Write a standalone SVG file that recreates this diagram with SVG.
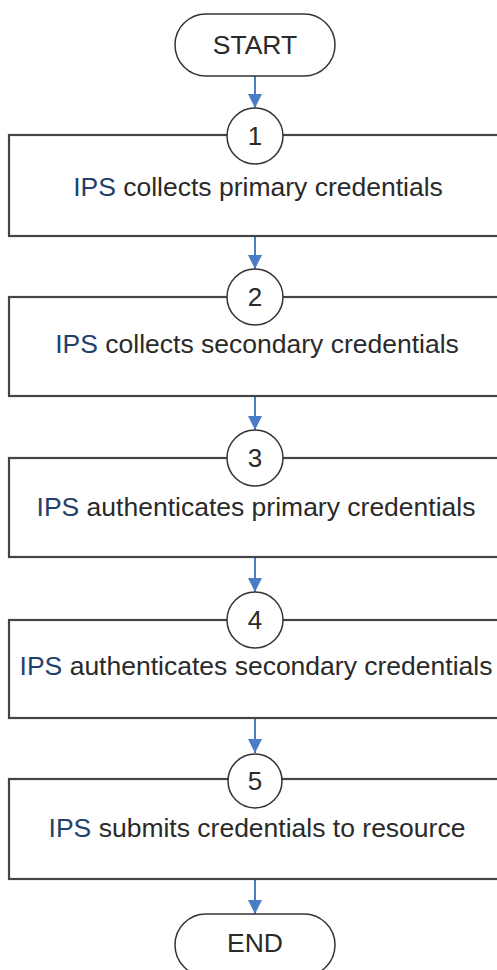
<svg xmlns="http://www.w3.org/2000/svg" width="497" height="970" viewBox="0 0 497 970">
<style>
.term{fill:#fff;stroke:#333;stroke-width:1.5}
.box{fill:#fff;stroke:#444;stroke-width:2.2}
.circ{fill:#fff;stroke:#333;stroke-width:1.5}
.t{font-family:"Liberation Sans",Arial,sans-serif;font-size:26.5px;fill:#2a2a2a;text-anchor:middle}
.ips{fill:#243f6c}
.num{font-family:"Liberation Sans",Arial,sans-serif;font-size:26px;fill:#2a2a2a;text-anchor:middle}
.arr{stroke:#4a7cc8;stroke-width:2;fill:none;marker-end:url(#ah)}
</style>
<defs>
<marker id="ah" markerWidth="14" markerHeight="14" refX="14" refY="7" orient="auto" markerUnits="userSpaceOnUse">
<path d="M0,0 L14,7 L0,14 Z" fill="#4a7cc8"/>
</marker>
</defs>
<rect width="497" height="970" fill="#fff"/>
<g id="connectors">
<line class="arr" x1="255" y1="76" x2="255" y2="108"/>
<line class="arr" x1="255" y1="236" x2="255" y2="269"/>
<line class="arr" x1="255" y1="396" x2="255" y2="430"/>
<line class="arr" x1="255" y1="557" x2="255" y2="592"/>
<line class="arr" x1="255" y1="718" x2="255" y2="753"/>
<line class="arr" x1="255" y1="879" x2="255" y2="914"/>
</g>
<g id="start">
<rect class="term" x="175" y="14" width="160" height="62" rx="31"/>
<text class="t" x="255" y="54">START</text>
</g>
<g id="step1">
<rect class="box" x="9" y="135" width="500" height="101"/>
<circle class="circ" cx="255" cy="136" r="28"/>
<text class="num" x="255" y="145">1</text>
<text class="t" x="258" y="196"><tspan class="ips">IPS</tspan> collects primary credentials</text>
</g>
<g id="step2">
<rect class="box" x="9" y="297" width="500" height="99"/>
<circle class="circ" cx="255" cy="297" r="28"/>
<text class="num" x="255" y="306">2</text>
<text class="t" x="257" y="353"><tspan class="ips">IPS</tspan> collects secondary credentials</text>
</g>
<g id="step3">
<rect class="box" x="9" y="458" width="500" height="99"/>
<circle class="circ" cx="255" cy="458" r="28"/>
<text class="num" x="255" y="467">3</text>
<text class="t" x="256" y="516"><tspan class="ips">IPS</tspan> authenticates primary credentials</text>
</g>
<g id="step4">
<rect class="box" x="9" y="620" width="500" height="98"/>
<circle class="circ" cx="255" cy="620" r="28"/>
<text class="num" x="255" y="629">4</text>
<text class="t" x="256" y="675"><tspan class="ips">IPS</tspan> authenticates secondary credentials</text>
</g>
<g id="step5">
<rect class="box" x="9" y="779" width="500" height="100"/>
<circle class="circ" cx="255" cy="781" r="27"/>
<text class="num" x="255" y="790">5</text>
<text class="t" x="257" y="837"><tspan class="ips">IPS</tspan> submits credentials to resource</text>
</g>
<g id="end">
<rect class="term" x="175" y="914" width="160" height="62" rx="31"/>
<text class="t" x="255" y="952">END</text>
</g>
</svg>
